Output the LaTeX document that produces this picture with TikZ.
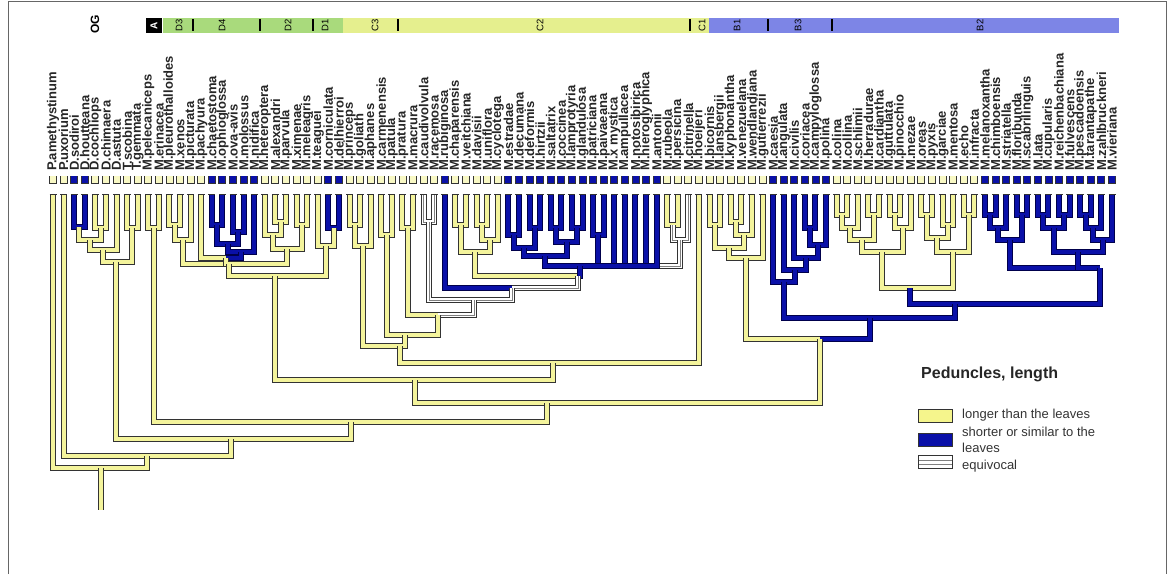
\documentclass[tikz,border=0pt]{standalone}
\usepackage{fontspec}
\setmainfont{Liberation Sans}
\usetikzlibrary{calc}
\definecolor{yel}{HTML}{F4F49C}
\definecolor{blu}{HTML}{0A10A8}
\definecolor{barD}{HTML}{A9DA7C}
\definecolor{barC}{HTML}{E5EF8E}
\definecolor{barB}{HTML}{7D85E6}
\definecolor{outl}{HTML}{333333}
\newcommand\jn[6]{%
  \path let \p1=(#4), \p2=(#6) in coordinate (#1) at ({(\x1+\x2)/2},{#2});
  \draw[#3] (#4) |- (#1);
  \draw[#5] (#6) |- (#1);
}
\newcommand\jnx[7]{%
  \coordinate (#1) at (#2,#3);
  \draw[#4] (#5) |- (#1);
  \draw[#6] (#7) |- (#1);
}
\begin{document}
\begin{tikzpicture}[x=1pt,y=-1pt,
  ybr/.style={draw=yel, line width=4pt, preaction={draw=outl, line width=6pt}},
  bbr/.style={draw=blu, line width=4pt, preaction={draw=black!70!blue, line width=6pt}},
  ebr/.style={draw=white, line width=4pt, preaction={draw=outl, line width=6pt}, postaction={draw=gray, line width=0.8pt}},
  lab/.style={rotate=90, anchor=west, inner sep=0pt, text=black!85, font=\fontsize{13}{13}\selectfont\bfseries},
  barlab/.style={rotate=90, inner sep=0pt, font=\fontsize{9.5}{9.5}\selectfont},
  sep/.style={draw=black, line width=2pt},
  leafcup/.style={draw=outl, line width=0.9pt},
  legbox/.style={draw=black!80, line width=0.8pt, minimum width=34pt, minimum height=13pt, inner sep=0pt},
  legtxt/.style={anchor=west, inner sep=0pt, text=black!80, font=\fontsize{13}{13}\selectfont}]
\useasboundingbox (0,0) rectangle (1171,574);
% frame
\draw[black!60, line width=1pt] (8,574) -- (8,1) -- (1166,1) -- (1166,574);
% top bar
\fill[barD] (163,18) rectangle (343,33);
\fill[barC] (343,18) rectangle (709,33);
\fill[barB] (709,18) rectangle (1119,33);
\fill[black] (146,18) rectangle (162,33);
\node[barlab, text=white, font=\fontsize{10}{10}\selectfont\bfseries] (gA) at (154,25.5) {A};
\node[barlab, font=\fontsize{12}{12}\selectfont\bfseries] (gOG) at (95,24) {OG};
\node[barlab] (gD3) at (179,25.5) {D3};
\node[barlab] (gD4) at (222,25.5) {D4};
\node[barlab] (gD2) at (288,25.5) {D2};
\node[barlab] (gD1) at (325,25.5) {D1};
\node[barlab] (gC3) at (375,25.5) {C3};
\node[barlab] (gC2) at (540,25.5) {C2};
\node[barlab] (gC1) at (702,25.5) {C1};
\node[barlab] (gB1) at (737,25.5) {B1};
\node[barlab] (gB3) at (798,25.5) {B3};
\node[barlab] (gB2) at (980,25.5) {B2};
\foreach \s in {193,260,313,398,690,768,832} \draw[sep] (\s,19) -- (\s,31);
% leaves and labels
\foreach \i in {1,...,101} \coordinate (L\i) at ({53+(\i-1)*10.59},194);
\foreach \i/\p/\n in {1/P/amethystinum,2/P/uxorium,3/D/sodiroi,4/D/houtteana,5/D/cochliops,
 6/D/chimaera,7/D/astuta,8/T/scobina,9/T/gemmata,10/M/pelecaniceps,11/M/erinacea,
 12/M/pleurothalloides,13/M/xenos,14/M/picturata,15/M/pachyura,16/M/chaetostoma,
 17/M/ophioglossa,18/M/ova-avis,19/M/molossus,20/M/nidifica,21/M/heteroptera,
 22/M/alexandri,23/M/parvula,24/M/ximenae,25/M/meleagris,26/M/teaguei,27/M/corniculata,
 28/M/delhierroi,29/M/princeps,30/M/goliath,31/M/aphanes,32/M/carmenensis,33/M/patula,
 34/M/pratura,35/M/macrura,36/M/caudivolvula,37/M/racemosa,38/M/rubiginosa,
 39/M/chaparensis,40/M/veitchiana,41/M/davisii,42/M/uniflora,43/M/cyclotega,
 44/M/estradae,45/M/decumana,46/M/deformis,47/M/hirtzii,48/M/saltatrix,49/M/coccinea,
 50/M/lamprotyria,51/M/glandulosa,52/M/patriciana,53/M/paivaeana,54/M/x mystica,
 55/M/ampullacea,56/M/notosibirica,57/M/hieroglyphica,58/M/antonii,59/M/rubeola,
 60/M/persicina,61/M/citrinella,62/M/hoeijeri,63/M/bicornis,64/M/lansbergii,
 65/M/kyphonantha,66/M/venezuelana,67/M/wendlandiana,68/M/gutierrezii,69/M/caesia,
 70/M/angulata,71/M/civilis,72/M/coriacea,73/M/campyloglossa,74/M/polina,
 75/M/colina,76/M/collina,77/M/schlimii,78/M/herradurae,79/M/cardiantha,80/M/guttulata,
 81/M/pinocchio,82/M/mezae,83/M/oreas,84/M/pyxis,85/M/garciae,86/M/mentosa,87/M/echo,
 88/M/infracta,89/M/melanoxantha,90/M/chimboensis,91/M/striatella,92/M/floribunda,
 93/M/scabrilinguis,94/M/lata,95/M/cupularis,96/M/reichenbachiana,97/M/fulvescens,
 98/M/pescadoensis,99/M/tarantapathe,100/M/zahlbruckneri,101/M/vieriana}
 \node[lab] (t\i) at ({53+(\i-1)*10.59},171) {\p.\n};
% ---------- tree ----------
% outgroup
\jn{dA}{227}{bbr}{L3}{bbr}{L4}
\jn{dB}{228}{ybr}{L5}{ybr}{L6}
\jn{dC}{240}{ybr}{dA}{ybr}{dB}
\jn{dr}{250}{ybr}{dC}{ybr}{L7}
\jn{tr}{228}{ybr}{L8}{ybr}{L9}
\jnx{dt}{116}{262}{ybr}{dr}{ybr}{tr}
% clade A
\jn{ca}{228}{ybr}{L10}{ybr}{L11}
% clade D
\jn{d3a}{225}{ybr}{L12}{ybr}{L13}
\jn{d3}{240}{ybr}{d3a}{ybr}{L14}
\jn{d4a}{225}{bbr}{L16}{bbr}{L17}
\jn{d4b}{232}{bbr}{L18}{bbr}{L19}
\jn{d4c}{244}{bbr}{d4a}{bbr}{d4b}
\jn{d4d}{252}{bbr}{d4c}{bbr}{L20}
\jnx{d4}{226}{258}{ybr}{L15}{bbr}{d4d}
\jn{d2a}{222}{ybr}{L22}{ybr}{L23}
\jn{d2b}{235}{ybr}{L21}{ybr}{d2a}
\jn{d2c}{225}{ybr}{L24}{ybr}{L25}
\jn{d2}{249}{ybr}{d2b}{ybr}{d2c}
\jn{d1a}{228}{bbr}{L27}{bbr}{L28}
\jn{d1}{246}{ybr}{L26}{ybr}{d1a}
\jnx{E1}{229}{264}{ybr}{d3}{ybr}{d2}
\draw[ybr] (d4) |- (E1);
\jnx{Dn}{275}{276}{ybr}{E1}{ybr}{d1}
% clade C3
\jn{c3a}{225}{ybr}{L29}{ybr}{L30}
\jn{C3a}{246}{ybr}{c3a}{ybr}{L31}
\jn{C3b}{235}{ybr}{L32}{ybr}{L33}
% clade C2
\jn{c2a}{228}{ybr}{L34}{ybr}{L35}
\jn{eq36}{222}{ebr}{L36}{ebr}{L37}
\jn{y1}{225}{ybr}{L39}{ybr}{L40}
\jn{y2}{225}{ybr}{L41}{ybr}{L42}
\jn{y3}{240}{ybr}{y2}{ybr}{L43}
\jn{c2y}{252}{ybr}{y1}{ybr}{y3}
\jn{bl1}{235}{bbr}{L44}{bbr}{L45}
\jn{bl2}{228}{bbr}{L46}{bbr}{L47}
\jn{bl3}{248}{bbr}{bl1}{bbr}{bl2}
\jn{bl4}{228}{bbr}{L48}{bbr}{L49}
\jn{bl5}{228}{bbr}{L50}{bbr}{L51}
\jn{bl6}{242}{bbr}{bl4}{bbr}{bl5}
\jn{bl7}{256}{bbr}{bl3}{bbr}{bl6}
\jn{bl8}{235}{bbr}{L52}{bbr}{L53}
\jn{eqa}{225}{ybr}{L59}{ybr}{L60}
\jn{eq}{240}{ebr}{eqa}{ebr}{L61}
\coordinate (BL) at (580,266);
\draw[ebr] (eq) |- (BL);
\draw[bbr] (bl7) |- (BL);
\draw[bbr] (bl8) |- (BL);
\foreach \i in {54,...,58} \draw[bbr] (L\i) |- (BL);
\jnx{F1}{578}{276}{ybr}{c2y}{bbr}{BL}
\jnx{F2}{512}{288}{bbr}{L38}{ebr}{F1}
\jnx{F3}{474}{300}{ebr}{eq36}{ebr}{F2}
\jnx{F4}{438}{315}{ybr}{c2a}{ebr}{F3}
\jnx{N5}{405}{335}{ybr}{C3b}{ybr}{F4}
\jnx{V}{400}{346}{ybr}{C3a}{ybr}{N5}
\jnx{W}{553}{363}{ybr}{V}{ybr}{L62}
% clade B1
\jn{ba}{225}{ybr}{L63}{ybr}{L64}
\jn{bb}{222}{ybr}{L65}{ybr}{L66}
\jn{bc}{235}{ybr}{bb}{ybr}{L67}
\jn{bd}{248}{ybr}{ba}{ybr}{bc}
\jn{B1}{258}{ybr}{bd}{ybr}{L68}
% clade B3
\jn{e1}{228}{bbr}{L72}{bbr}{L73}
\jn{e2}{245}{bbr}{e1}{bbr}{L74}
\jn{e3}{258}{bbr}{L71}{bbr}{e2}
\jn{e4}{270}{bbr}{L70}{bbr}{e3}
\jn{B3}{282}{bbr}{L69}{bbr}{e4}
% clade B2
\jn{p1}{215}{ybr}{L75}{ybr}{L76}
\jn{p2}{228}{ybr}{p1}{ybr}{L77}
\jn{p3}{215}{ybr}{L78}{ybr}{L79}
\jn{p4}{240}{ybr}{p2}{ybr}{p3}
\jn{p5}{215}{ybr}{L80}{ybr}{L81}
\jn{p6}{228}{ybr}{p5}{ybr}{L82}
\jn{p7}{252}{ybr}{p4}{ybr}{p6}
\jn{p8}{215}{ybr}{L83}{ybr}{L84}
\jn{p9}{225}{ybr}{L85}{ybr}{L86}
\jn{p10}{238}{ybr}{p8}{ybr}{p9}
\jn{p11}{215}{ybr}{L87}{ybr}{L88}
\jn{p12}{252}{ybr}{p10}{ybr}{p11}
\jnx{p13}{910}{288}{ybr}{p7}{ybr}{p12}
\jn{q1}{215}{bbr}{L89}{bbr}{L90}
\jn{q2}{228}{bbr}{q1}{bbr}{L91}
\jn{q3}{215}{bbr}{L92}{bbr}{L93}
\jn{q4}{240}{bbr}{q2}{bbr}{q3}
\jn{q5}{215}{bbr}{L94}{bbr}{L95}
\jn{q6}{215}{bbr}{L96}{bbr}{L97}
\jn{q7}{228}{bbr}{q5}{bbr}{q6}
\jn{q8}{215}{bbr}{L98}{bbr}{L99}
\jn{q9}{228}{bbr}{q8}{bbr}{L100}
\jn{q10}{240}{bbr}{q9}{bbr}{L101}
\jn{q11}{252}{bbr}{q7}{bbr}{q10}
\jnx{q12}{1100}{268}{bbr}{q4}{bbr}{q11}
\jnx{B2}{955}{304}{bbr}{p13}{bbr}{q12}
\jnx{B23}{870}{318}{bbr}{B3}{bbr}{B2}
\jnx{Bc}{820}{339}{ybr}{B1}{bbr}{B23}
% backbone
\jnx{Z}{415}{380}{ybr}{Dn}{ybr}{W}
\jnx{Y}{547}{403}{ybr}{Z}{ybr}{Bc}
\jnx{oc}{351}{422}{ybr}{ca}{ybr}{Y}
\jnx{ob}{231}{439}{ybr}{dt}{ybr}{oc}
\jnx{oa}{147}{456}{ybr}{L2}{ybr}{ob}
\jnx{root}{101}{468}{ybr}{L1}{ybr}{oa}
\coordinate (rootend) at (101,510);
\draw[ybr] (root) -- (rootend);
% leaf tops and cups
\foreach \i in {1,...,101} {
  \draw[outl, line width=1pt] ($(L\i)+(-3.5,0)$) -- ($(L\i)+(3.5,0)$);
  \fill[yel!60!white] ($(L\i)+(-3.5,-18)$) rectangle ($(L\i)+(3.5,-11)$);
}
\foreach \i in {3,4,16,17,18,19,20,27,28,38,44,45,46,47,48,49,50,51,52,53,54,55,56,57,58,69,70,71,72,73,74,89,90,91,92,93,94,95,96,97,98,99,100,101}
  \fill[blu] ($(L\i)+(-3.5,-18)$) rectangle ($(L\i)+(3.5,-11)$);
\foreach \i in {1,...,101}
  \draw[leafcup] ($(L\i)+(-3.5,-18)$) -- ++(0,7) -- ++(7,0) -- ++(0,-7);
% legend
\node[anchor=west, inner sep=0pt, font=\fontsize{16}{16}\selectfont\bfseries, text=black!85] (lt) at (921,374) {Peduncles, length};
\node[legbox, fill=yel!90!yellow] (ly) at (935,416) {};
\node[legbox, fill=blu] (lb) at (935,440) {};
\node[legbox, fill=white, path picture={\draw[gray] ([yshift=2pt]path picture bounding box.west) -- ([yshift=2pt]path picture bounding box.east);
  \draw[gray] ([yshift=-2pt]path picture bounding box.west) -- ([yshift=-2pt]path picture bounding box.east);}] (le) at (935,462) {};
\node[legtxt] (ty) at (962,415) {longer than the leaves};
\node[legtxt] (tb1) at (962,432) {shorter or similar to the};
\node[legtxt] (tb2) at (962,448) {leaves};
\node[legtxt] (te) at (962,466) {equivocal};
\end{tikzpicture}
\end{document}
